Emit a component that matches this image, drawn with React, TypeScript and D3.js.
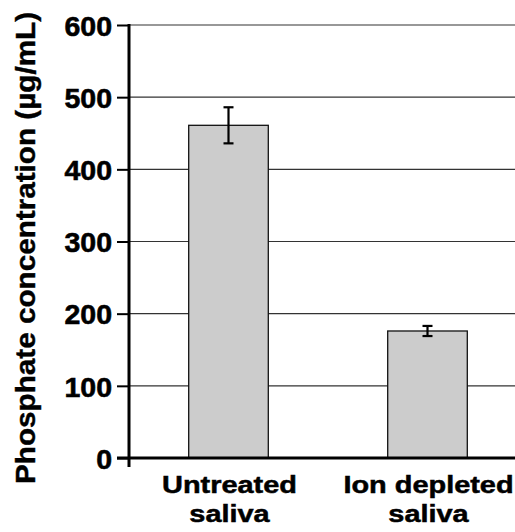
import { useEffect, useRef } from "react";
import * as d3 from "d3";

const categories = ["Untreated saliva", "Ion depleted saliva"];
const means = [461, 176];
const errors = [25, 7];
const yTicks = [0, 100, 200, 300, 400, 500, 600];

export default function App() {
  const ref = useRef<SVGSVGElement | null>(null);

  useEffect(() => {
    const svg = d3.select(ref.current);
    svg.selectAll("*").remove();

    const width = 515;
    const height = 532;
    const left = 129;
    const top = 25;
    const bottom = 458;
    const font = "'Liberation Sans', Arial, sans-serif";

    const x = d3.scaleBand<string>().domain(categories).range([left, left + 398]).paddingInner(0.6).paddingOuter(0.3);
    const y = d3.scaleLinear().domain([0, 600]).range([bottom, top]);

    svg.attr("width", width).attr("height", height).attr("viewBox", `0 0 ${width} ${height}`);

    // grid lines
    svg.append("g")
      .selectAll("line")
      .data(yTicks.filter((t) => t > 0))
      .enter()
      .append("line")
      .attr("x1", left)
      .attr("x2", width)
      .attr("y1", (d) => y(d))
      .attr("y2", (d) => y(d))
      .attr("stroke", "#333")
      .attr("stroke-width", 1.2);

    const data = categories.map((c, i) => ({ c, v: means[i], e: errors[i] }));

    svg.append("g")
      .selectAll("rect")
      .data(data)
      .enter()
      .append("rect")
      .attr("x", (d) => x(d.c)!)
      .attr("y", (d) => y(d.v))
      .attr("width", x.bandwidth())
      .attr("height", (d) => bottom - y(d.v))
      .attr("fill", "#cccccc")
      .attr("stroke", "#111")
      .attr("stroke-width", 1.3);

    // error bars
    const eb = svg.append("g").attr("stroke", "#000").attr("stroke-width", 2.2);
    data.forEach((d) => {
      const cx = x(d.c)! + x.bandwidth() / 2;
      eb.append("line").attr("x1", cx).attr("x2", cx).attr("y1", y(d.v + d.e)).attr("y2", y(d.v - d.e));
      [d.v + d.e, d.v - d.e].forEach((v) => {
        eb.append("line").attr("x1", cx - 5).attr("x2", cx + 5).attr("y1", y(v)).attr("y2", y(v));
      });
    });

    // y axis
    const yAxis = svg.append("g")
      .attr("transform", `translate(${left},0)`)
      .call(d3.axisLeft(y).tickValues(yTicks).tickSize(12).tickPadding(5));
    yAxis.select(".domain").remove();
    yAxis.selectAll(".tick line").attr("stroke", "#000").attr("stroke-width", 2);
    yAxis.selectAll(".tick text")
      .attr("font-family", font)
      .attr("font-weight", "bold")
      .attr("font-size", 28.5)
      .attr("fill", "#000")
      .attr("stroke", "#000")
      .attr("stroke-width", 0.6)
      .attr("dy", "0.36em");

    svg.append("line")
      .attr("x1", left).attr("x2", left)
      .attr("y1", top - 1).attr("y2", bottom + 9)
      .attr("stroke", "#000").attr("stroke-width", 3);
    svg.append("line")
      .attr("x1", left - 12).attr("x2", width)
      .attr("y1", bottom).attr("y2", bottom)
      .attr("stroke", "#000").attr("stroke-width", 3);

    // category labels
    const cat = svg.append("g");
    data.forEach((d) => {
      const cx = x(d.c)! + x.bandwidth() / 2 + 1;
      const words = d.c.split(" ");
      const lines = [words.slice(0, -1).join(" "), words[words.length - 1]];
      lines.forEach((ln, i) => {
        cat.append("text")
          .attr("transform", `translate(${cx},${493 + i * 29}) scale(1.18,1)`)
          .attr("text-anchor", "middle")
          .attr("font-family", font)
          .attr("font-weight", "bold")
          .attr("font-size", 24.5)
          .attr("stroke", "#000")
          .attr("stroke-width", 0.5)
          .text(ln);
      });
    });

    svg.append("text")
      .attr("transform", `translate(35,248) rotate(-90) scale(1.06,1)`)
      .attr("text-anchor", "middle")
      .attr("font-family", font)
      .attr("font-weight", "bold")
      .attr("font-size", 28)
      .attr("stroke", "#000")
      .attr("stroke-width", 0.4)
      .text("Phosphate concentration (µg/mL)");
  }, []);

  return (
    <div style={{ position: "absolute", left: 0, top: 0 }}>
      <svg ref={ref} style={{ display: "block" }} />
    </div>
  );
}
